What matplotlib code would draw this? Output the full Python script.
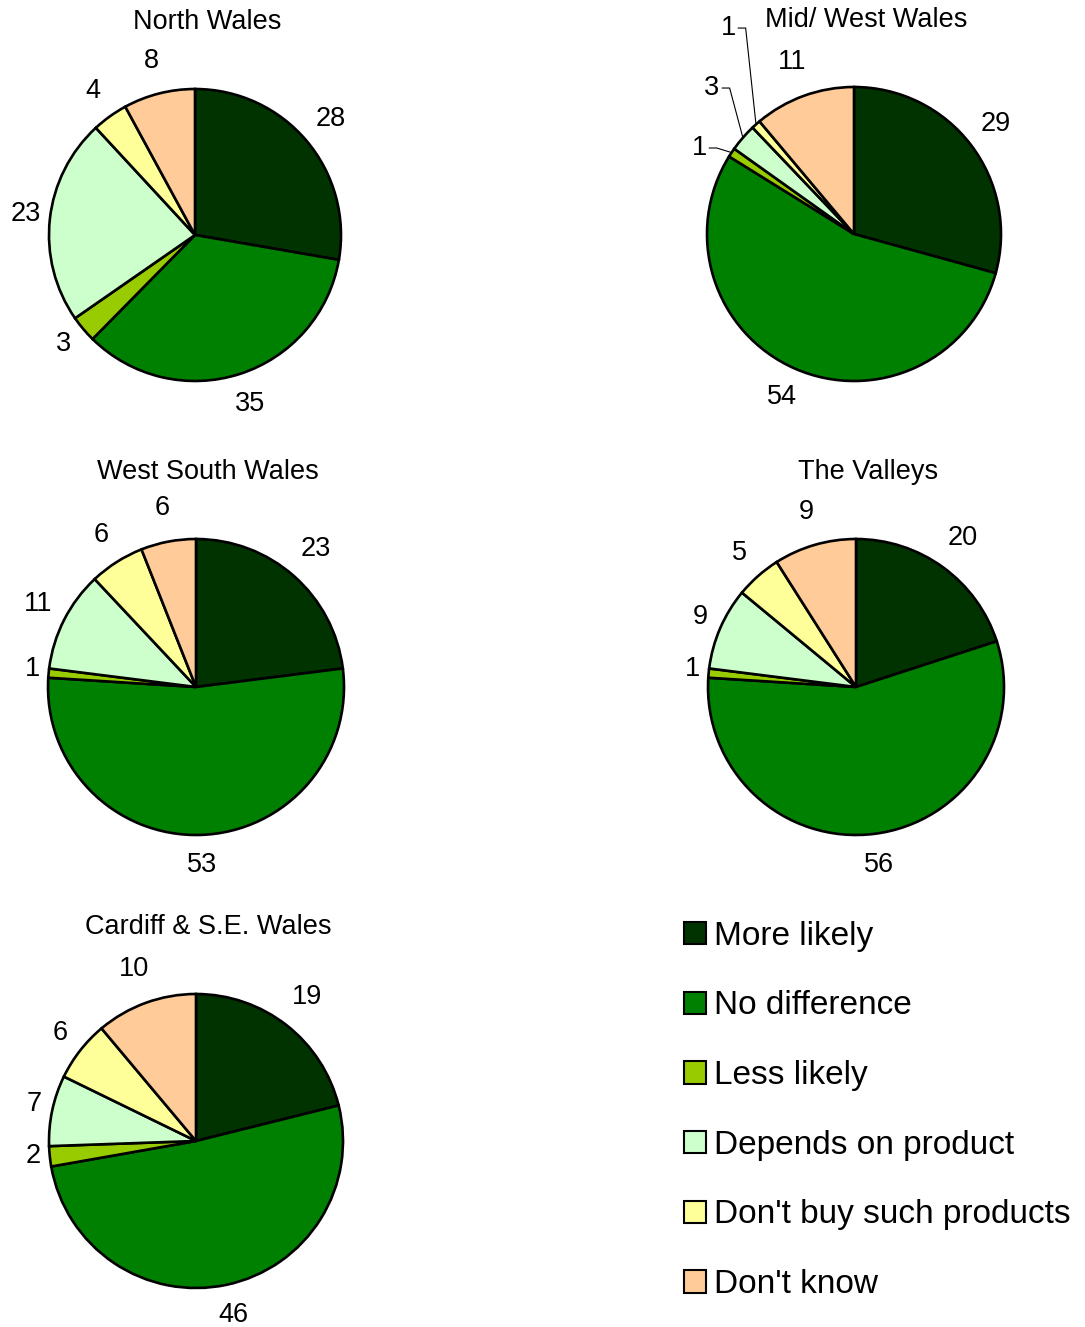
import numpy as np
import matplotlib
matplotlib.use("Agg")
import matplotlib.pyplot as plt
from matplotlib.patches import Patch

plt.rcParams['font.family'] = ['Liberation Sans', 'DejaVu Sans']

# Data
categories = ['More likely', 'No difference', 'Less likely',
              'Depends on product', "Don't buy such products", "Don't know"]
colors = ['#003300', '#008000', '#99CC00', '#CCFFCC', '#FFFF99', '#FFCC99']

regions = ['North Wales', 'Mid/ West Wales', 'West South Wales',
           'The Valleys', 'Cardiff & S.E. Wales']
north_wales = [28, 35, 3, 23, 4, 8]
mid_west_wales = [29, 54, 1, 3, 1, 11]
west_south_wales = [23, 53, 1, 11, 6, 6]
the_valleys = [20, 56, 1, 9, 5, 9]
cardiff_se_wales = [19, 46, 2, 7, 6, 10]
values = [north_wales, mid_west_wales, west_south_wales, the_valleys, cardiff_se_wales]

# Layout (pixels): pie centre x, y and radius
W, H = 1085, 1327
pie_boxes = [(195, 235, 146), (854, 234, 147), (196, 687, 148),
             (856, 687, 148), (196, 1141, 147)]
# labels with leader lines on the Mid/West pie: index -> text position (in radii)
leader_labels = {2: (-1.054, 0.585), 3: (-0.966, 0.993), 4: (-0.857, 1.401)}

fig = plt.figure(figsize=(W / 100, H / 100), dpi=100)
k = 1.05
for i, (name, vals, (cx, cy, r)) in enumerate(zip(regions, values, pie_boxes)):
    ax = fig.add_axes([(cx - r * k) / W, 1 - (cy + r * k) / H,
                       2 * r * k / W, 2 * r * k / H])
    wedges, texts = ax.pie(vals, labels=[str(v) for v in vals], colors=colors,
                           startangle=90, counterclock=False,
                           wedgeprops=dict(edgecolor='black', linewidth=1.9),
                           textprops=dict(fontsize=19.5))
    # place labels like the spreadsheet does: closer at the sides, further at top/bottom
    for w, t in zip(wedges, texts):
        mid = np.deg2rad((w.theta1 + w.theta2) / 2)
        dx, dy = np.cos(mid), np.sin(mid)
        nd = len(t.get_text())
        f = 1.10 + 0.12 * abs(dy) + 0.05 * (nd - 1) * abs(dx)
        t.set_position((dx * f, dy * f + 0.015))
        t.set_ha('center')
        t.set_va('center')
    if i == 1:
        for j, (tx, ty) in leader_labels.items():
            texts[j].set_position((tx, ty))
            w = wedges[j]
            mid = np.deg2rad((w.theta1 + w.theta2) / 2)
            ex, ey = np.cos(mid), np.sin(mid)
            ax.plot([tx + 0.07, tx + 0.12, ex], [ty, ty, ey], color='black',
                    lw=0.8, clip_on=False)
    ax.set_xlim(-k, k)
    ax.set_ylim(-k, k)
    ax.set_aspect('equal')
    ax.axis('off')
    ax.text(12 / r, 1 + 67 / r, name, ha='center', va='center', fontsize=19.5)

handles = [Patch(facecolor=c, edgecolor='black', linewidth=1.5) for c in colors]
fig.legend(handles, categories, loc='center left',
           bbox_to_anchor=(684 / W, 1 - 1110.5 / H), frameon=False,
           fontsize=24, handlelength=0.66, handleheight=0.66,
           handletextpad=0.25, labelspacing=1.16, borderpad=0, borderaxespad=0)

fig.savefig('out.png', dpi=100)
